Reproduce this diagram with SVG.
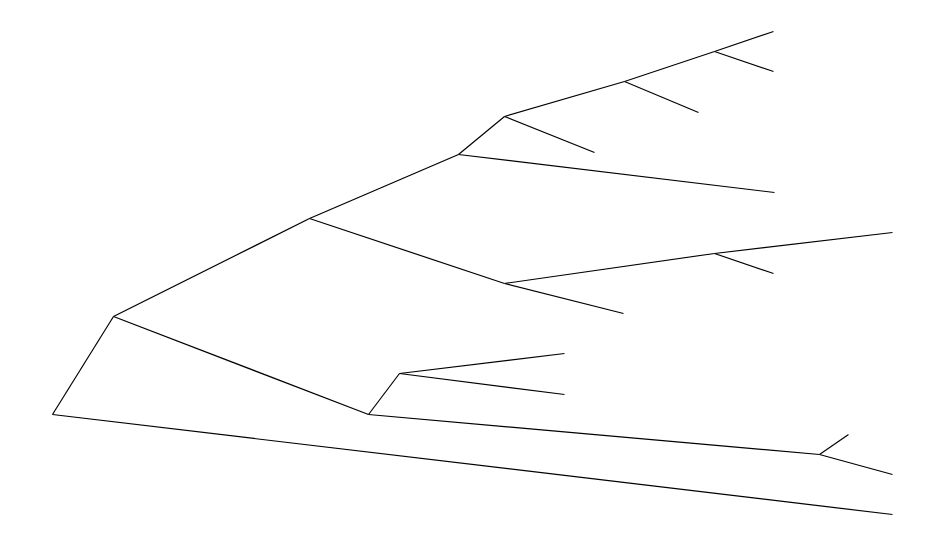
<svg xmlns="http://www.w3.org/2000/svg" width="943" height="550" viewBox="0 0 943 550">
<style>
line { stroke: #000; stroke-width: 1.2; fill: none; }
</style>
<rect width="943" height="550" fill="#fff"/>
<g id="connectors">
<line x1="52.5" y1="414.5" x2="892.5" y2="514.5"/>
<line x1="52.5" y1="414.5" x2="113.5" y2="316.5"/>
<line x1="113.5" y1="316.5" x2="309.5" y2="218.5"/>
<line x1="113.5" y1="316.5" x2="368.5" y2="414.5"/>
<line x1="368.5" y1="414.5" x2="399.5" y2="373.5"/>
<line x1="399.5" y1="373.5" x2="564.5" y2="353.5"/>
<line x1="399.5" y1="373.5" x2="564.5" y2="394.5"/>
<line x1="368.5" y1="414.5" x2="819.5" y2="454.5"/>
<line x1="819.5" y1="454.5" x2="848.5" y2="434.5"/>
<line x1="819.5" y1="454.5" x2="892.5" y2="474.5"/>
<line x1="309.5" y1="218.5" x2="458.5" y2="154.5"/>
<line x1="309.5" y1="218.5" x2="504.5" y2="283.5"/>
<line x1="504.5" y1="283.5" x2="714.5" y2="253.5"/>
<line x1="714.5" y1="253.5" x2="892.5" y2="232.5"/>
<line x1="714.5" y1="253.5" x2="773.5" y2="273.5"/>
<line x1="504.5" y1="283.5" x2="623.5" y2="313.5"/>
<line x1="458.5" y1="154.5" x2="504.5" y2="116.5"/>
<line x1="458.5" y1="154.5" x2="774.5" y2="192.5"/>
<line x1="504.5" y1="116.5" x2="624.5" y2="81.5"/>
<line x1="504.5" y1="116.5" x2="594.5" y2="152.5"/>
<line x1="624.5" y1="81.5" x2="714.5" y2="51.5"/>
<line x1="624.5" y1="81.5" x2="698.5" y2="112.5"/>
<line x1="714.5" y1="51.5" x2="773.5" y2="31.5"/>
<line x1="714.5" y1="51.5" x2="773.5" y2="71.5"/>
</g>
</svg>
